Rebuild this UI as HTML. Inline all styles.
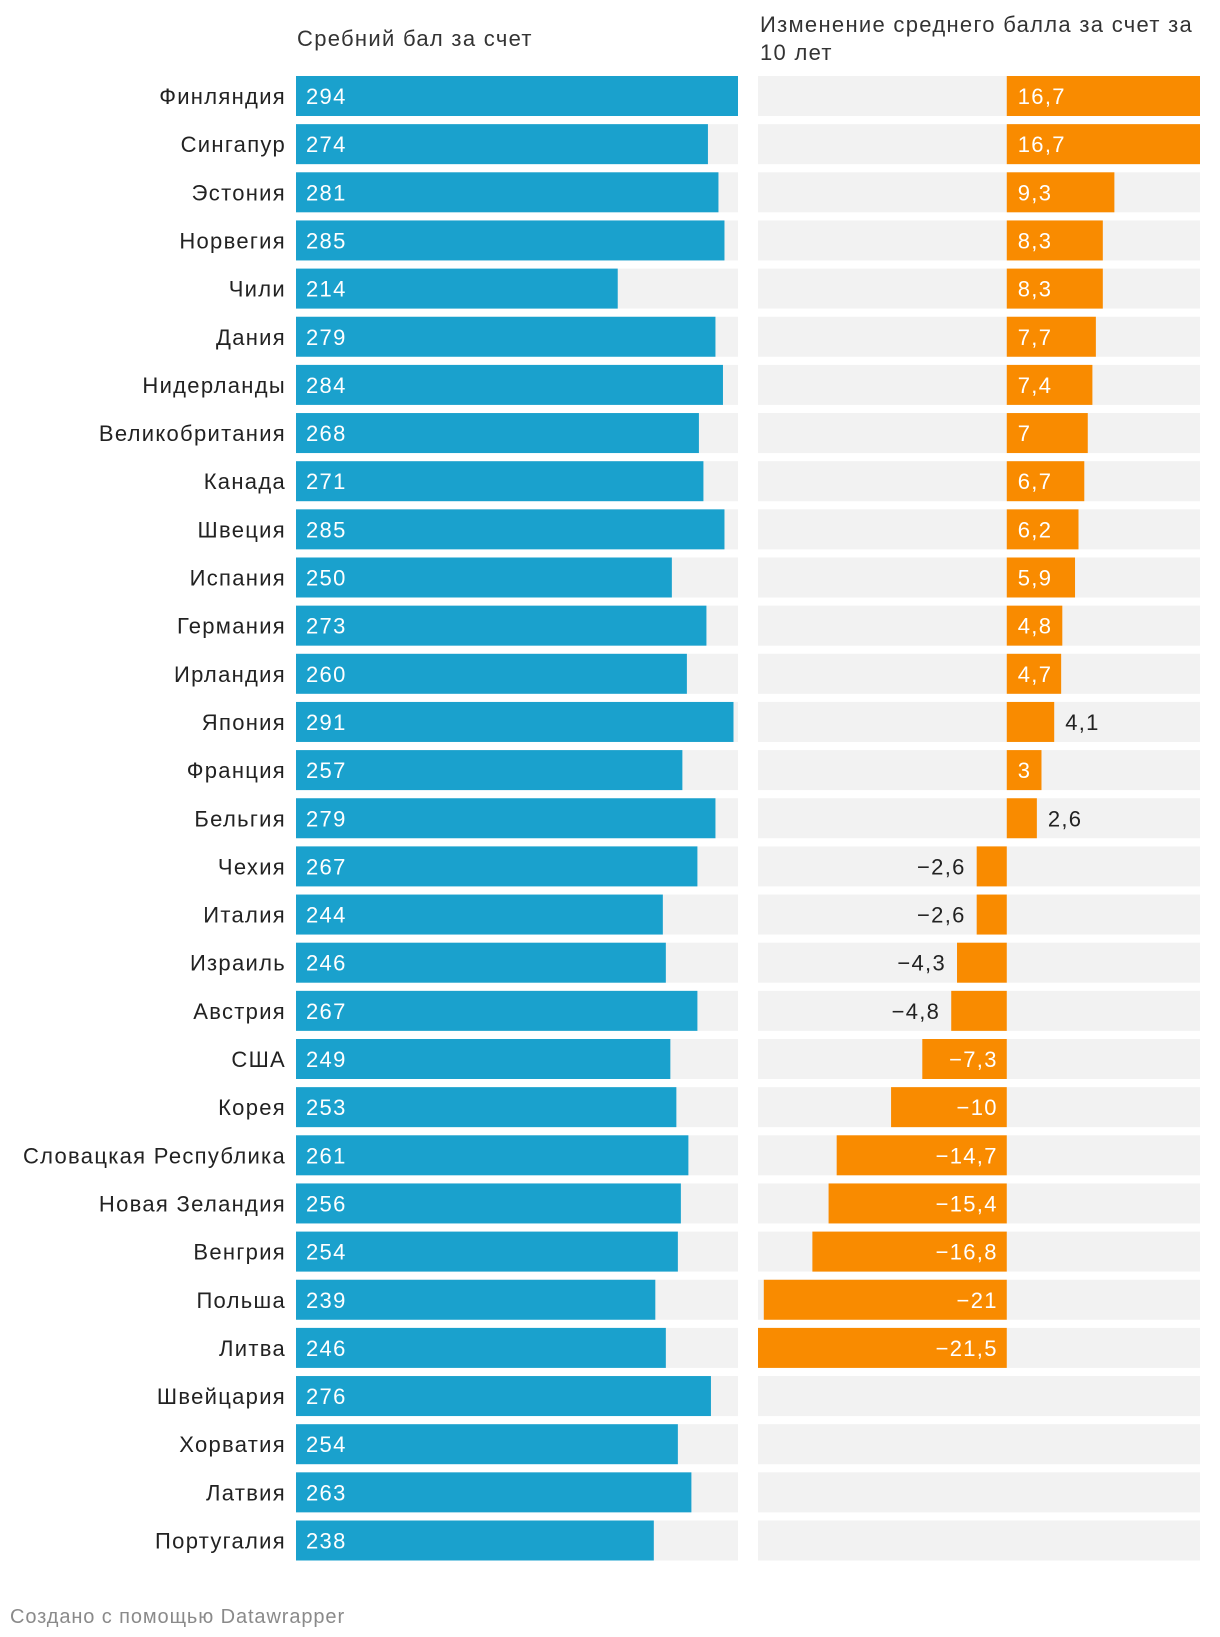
<!DOCTYPE html>
<html><head><meta charset="utf-8"><style>
body{margin:0;background:#fff;width:1220px;height:1632px;overflow:hidden;font-family:"Liberation Sans","DejaVu Sans",sans-serif}
svg text{font-family:"Liberation Sans","DejaVu Sans",sans-serif;letter-spacing:1.3px}
</style></head><body>
<svg id="chart" width="1220" height="1632" xmlns="http://www.w3.org/2000/svg">
<text x="297" y="46" font-size="22" fill="#333">Сребний бал за счет</text>
<text x="760" y="32" font-size="22" fill="#333">Изменение среднего балла за счет за</text>
<text x="760" y="60" font-size="22" fill="#333">10 лет</text>
<text x="10" y="1623" font-size="20" fill="#8a8a8a" style="letter-spacing:0.9px">Создано с помощью Datawrapper</text>
</svg>
<script>
const countries=["Финляндия","Сингапур","Эстония","Норвегия","Чили","Дания","Нидерланды","Великобритания","Канада","Швеция","Испания","Германия","Ирландия","Япония","Франция","Бельгия","Чехия","Италия","Израиль","Австрия","США","Корея","Словацкая Республика","Новая Зеландия","Венгрия","Польша","Литва","Швейцария","Хорватия","Латвия","Португалия"];
const scores=[294,274,281,285,214,279,284,268,271,285,250,273,260,291,257,279,267,244,246,267,249,253,261,256,254,239,246,276,254,263,238];
const changes=[16.7,16.7,9.3,8.3,8.3,7.7,7.4,7,6.7,6.2,5.9,4.8,4.7,4.1,3,2.6,-2.6,-2.6,-4.3,-4.8,-7.3,-10,-14.7,-15.4,-16.8,-21,-21.5,null,null,null,null];
const scoreMax=294, chMin=-21.5, chMax=16.7;
const NS="http://www.w3.org/2000/svg";
const svg=document.getElementById('chart');
const L0=296,LW=442,R0=758,RW=442,TOP=76,PITCH=48.15,BH=40;
const xs=v=>L0+v/scoreMax*LW;
const xc=v=>R0+(v-chMin)/(chMax-chMin)*RW;
const fmt=v=>(v<0?"−":"")+String(Math.abs(v)).replace('.',',');
function mk(tag,attrs,txt){const e=document.createElementNS(NS,tag);for(const k in attrs)e.setAttribute(k,attrs[k]);if(txt!=null)e.textContent=txt;svg.appendChild(e);return e;}
countries.forEach((c,i)=>{
  const y=TOP+i*PITCH, cy=y+BH/2+8;
  let e=mk('text',{x:286,y:cy,'font-size':22,fill:'#222','text-anchor':'end'},c);
  
  
  e=mk('rect',{x:L0,y:y,width:LW,height:BH,fill:'#f2f2f2'});
  
  
  e=mk('rect',{x:L0,y:y,width:xs(scores[i])-L0,height:BH,fill:'#1aa1cd'});
  
  
  e=mk('text',{x:L0+10,y:cy,'font-size':22,fill:'#fff'},String(scores[i]));
  
  
  e=mk('rect',{x:R0,y:y,width:RW,height:BH,fill:'#f2f2f2'});
  
  
  const v=changes[i];
  if(v!==null){
    const z=xc(0), xe=xc(v);
    e=mk('rect',{x:Math.min(z,xe),y:y,width:Math.abs(xe-z),height:BH,fill:'#f98b00'});
    
    
    const t=fmt(v);
    const inside=Math.abs(xe-z)>t.length*11+20;
    let a;
    if(v>=0) a=inside?{x:z+11,anchor:'start',fill:'#fff'}:{x:xe+11,anchor:'start',fill:'#222'};
    else a=inside?{x:z-9,anchor:'end',fill:'#fff'}:{x:xe-11,anchor:'end',fill:'#222'};
    e=mk('text',{x:a.x,y:cy,'font-size':22,fill:a.fill,'text-anchor':a.anchor},t);
    
    
  }
});
</script>
</body></html>
